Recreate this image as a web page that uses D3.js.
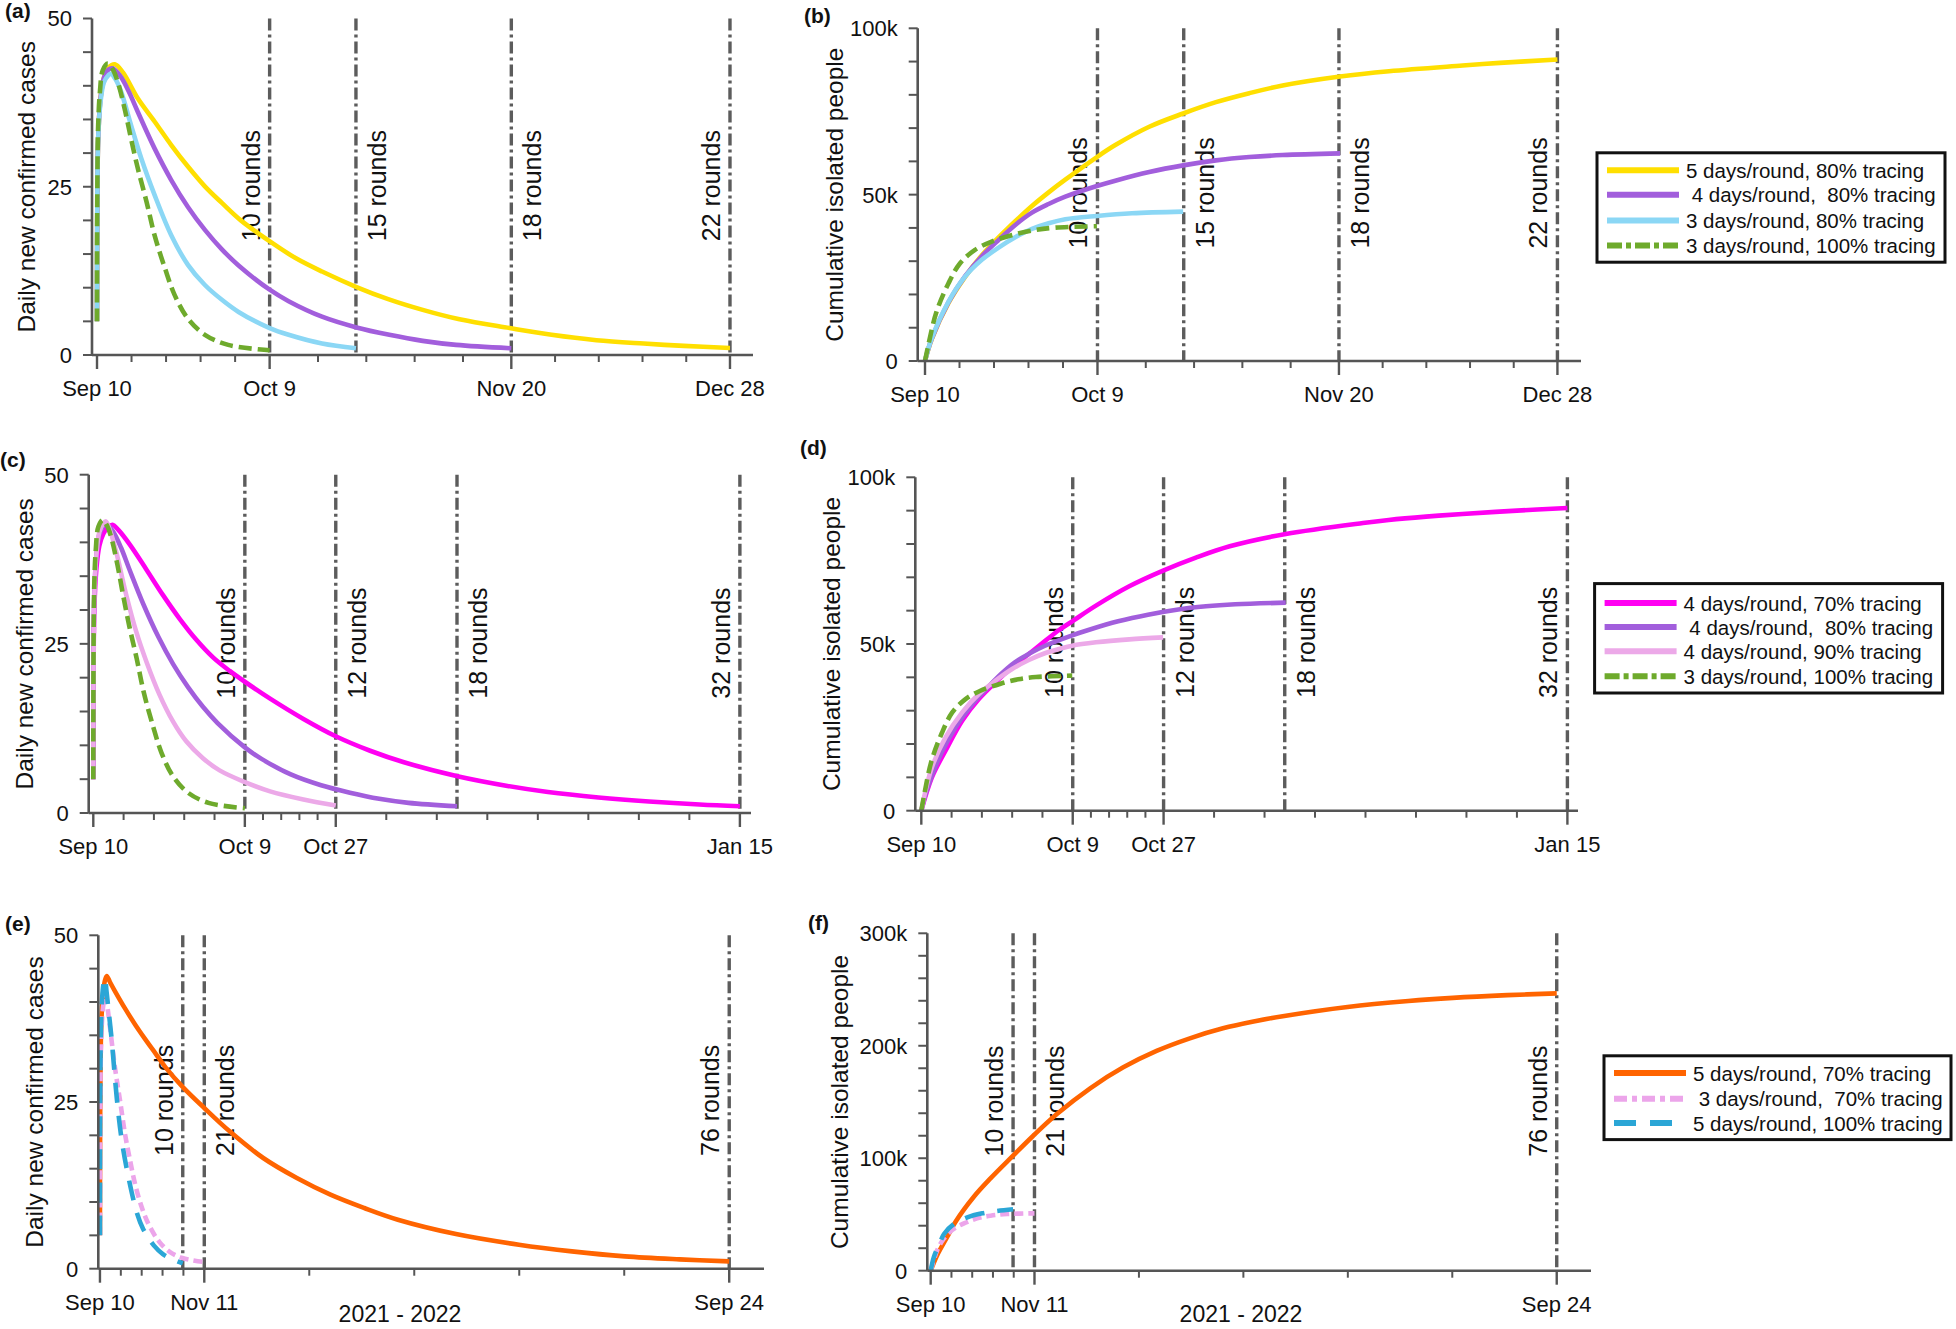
<!DOCTYPE html>
<html><head><meta charset="utf-8">
<script src="https://cdn.jsdelivr.net/npm/d3@7/dist/d3.min.js"></script>
<style>
body{margin:0;background:#fff;}
svg{display:block;font-family:"Liberation Sans",Arial,Helvetica,sans-serif;}
</style></head><body>
<svg id="chart" width="1956" height="1329"></svg>
<script>
// ---------- x-axis (day index from Sep 10) ----------
const ticksAB = [0, 30, 72, 110];
const tickLabelsAB = ["Sep 10", "Oct 9", "Nov 20", "Dec 28"];
const minorAB = [6, 12, 18, 24, 38.4, 46.8, 55.2, 63.6, 79.6, 87.2, 94.8, 102.4];
const roundsAB = [30, 45, 72, 110];
const roundLabelsAB = ["10 rounds", "15 rounds", "18 rounds", "22 rounds"];

const ticksCD = [0, 30, 48, 128];
const tickLabelsCD = ["Sep 10", "Oct 9", "Oct 27", "Jan 15"];
const minorCD = [6, 12, 18, 24, 33.6, 37.2, 40.8, 44.4, 58, 68, 78, 88, 98, 108, 118];
const roundsCD = [30, 48, 72, 128];
const roundLabelsCD = ["10 rounds", "12 rounds", "18 rounds", "32 rounds"];

const ticksEF = [0, 63, 380];
const tickLabelsEF = ["Sep 10", "Nov 11", "Sep 24"];
const minorEF = [12.6, 25.2, 37.8, 50.4, 126.4, 189.8, 253.2, 316.6];
const roundsEF = [50, 63, 380];
const roundLabelsEF = ["10 rounds", "21 rounds", "76 rounds"];

// ---------- daily new confirmed cases [day, cases] ----------
const daily5d80 = [[0,5],[0.05,22],[0.2,32],[0.6,38],[1.2,41.2],[2,42.7],[3.1,43.2],[4.5,42],[7.1,38.1],[10,34.7],[12.9,31.2],[15.8,28.0],[18.7,25.1],[21.7,22.6],[25,20.0],[30,16.9],[34.5,14.4],[39.1,12.4],[45.1,10.1],[50.6,8.3],[56.6,6.7],[63,5.3],[71.7,4.0],[79,3.0],[86.8,2.2],[95,1.7],[102,1.35],[110,1.05]];
const daily4d80 = [[0,5],[0.05,22],[0.2,32],[0.6,38],[1.2,41.2],[2,42.4],[2.7,42.6],[4,41.5],[5.5,39.2],[7.1,36.1],[10,30.7],[12.9,26.0],[15.8,22.0],[18.75,18.6],[21.7,15.7],[24.6,13.3],[30,9.7],[33.3,8.0],[39.1,5.7],[45.1,4.1],[50.8,3.0],[56.6,2.1],[62.4,1.5],[72,1.0]];
const daily3d80 = [[0,5],[0.05,22],[0.2,32],[0.6,37.5],[1.2,40.5],[2,41.6],[2.4,41.8],[3.2,41],[4.2,39.1],[5.9,34.2],[7.7,29.2],[10,23.8],[12.9,17.8],[15.8,13.4],[18.75,10.4],[21.7,8.2],[24.6,6.4],[30,4.0],[33.3,3.0],[39.1,1.7],[45,1.0]];
const daily3d100 = [[0,5],[0.05,24],[0.2,34],[0.5,39],[1,42.3],[1.86,43.3],[2.7,42.5],[3.6,40.6],[4.8,36.6],[5.9,32.2],[7.1,27.7],[8.6,22.8],[10,17.8],[11.8,12.9],[13.5,8.9],[15.8,5.4],[18.75,3.0],[22.8,1.5],[30,0.7]];
const daily4d70 = [[0,5],[0.05,20],[0.2,30],[0.6,36],[1.2,39.5],[2,41.3],[3,42.3],[3.8,42.6],[5,41.8],[7.2,39.7],[10.5,36.0],[13.8,32.2],[17.1,28.7],[20.4,25.6],[23.7,23.0],[27,21.0],[30,19.4],[35,16.9],[41.6,13.9],[48.1,11.3],[54.8,9.2],[61.5,7.5],[72.3,5.4],[82,4.0],[90,3.1],[100,2.3],[110,1.7],[120,1.25],[128,1.0]];
const daily4d90 = [[0,5],[0.05,22],[0.2,32],[0.6,38],[1.2,41.5],[2,42.8],[2.5,43.1],[3.3,41.8],[4.5,38.7],[6.5,32.3],[8.5,26.8],[10.5,22.4],[13.1,17.5],[15.8,13.5],[18.4,10.6],[21.7,8.1],[25,6.3],[29.9,4.6],[35,3.2],[41.6,2.0],[48,1.1]];
const daily5d70 = [[0,5],[0.1,20],[0.4,32],[1,38],[2,41.5],[3,43.2],[4.1,43.9],[6,43],[9.1,41.6],[15.2,39],[21.3,36.6],[27.4,34.4],[33.5,32.3],[39.6,30.2],[50.2,27.2],[63,24.1],[78.3,20.6],[98.6,16.6],[118.9,13.6],[139.2,11.1],[159.6,9.1],[179.9,7.35],[215,5.2],[253,3.6],[285,2.6],[317,1.85],[350,1.4],[380,1.1]];
const daily3d70 = [[0,5],[0.1,20],[0.4,30],[1,36],[2,39.5],[3,40.8],[4,40],[6.1,36.1],[9.1,30.1],[12.2,25.1],[15.2,20.1],[18.3,16.1],[21.3,12.6],[25.4,9.1],[29.5,6.6],[35.6,4.1],[41.7,2.6],[49.8,1.6],[63,1.0]];
const daily5d100 = [[0,5],[0.1,22],[0.4,33],[1,39],[2,42.5],[3,43.6],[4,41.5],[5.1,39],[7.1,34.3],[10.2,25.5],[13.2,19.2],[17.3,13.6],[22.4,8.3],[26,6],[32.5,3.5],[38,2.2],[44,1.4],[50,0.8]];

// ---------- cumulative isolated people [day, thousands] ----------
const cum5d80 = [[0,0],[1.16,6.5],[4.07,17.4],[6.98,25.3],[9.88,31.8],[12.5,36.6],[15.7,42.0],[18.6,46.6],[21.5,50.7],[24.4,54.5],[29.9,61.3],[33.1,64.9],[39,70.4],[44.9,74.4],[50.6,77.8],[56.4,80.5],[62.2,82.8],[72.2,85.5],[80.7,87.1],[93.5,88.8],[100,89.6],[110,90.6]];
const cum4d80 = [[0,0],[1.16,6.6],[4.07,17.6],[6.98,25.5],[9.88,31.5],[12.5,35.9],[15.7,40.9],[18.6,44.6],[21.5,47.2],[24.4,49.4],[29.9,52.6],[33.1,54.2],[39,56.8],[44.9,58.8],[50.6,60.3],[56.4,61.3],[62.2,61.9],[72.2,62.4]];
const cum3d80 = [[0,0],[1.16,6.8],[4.07,17.8],[6.98,25.4],[9.88,30.4],[12.8,34.1],[15.7,37.2],[18.6,39.7],[21.5,41.4],[24.4,42.6],[29.9,43.6],[36,44.4],[44.9,44.9]];
const cum3d100 = [[0,0],[0.58,4.8],[2,14.8],[4.07,23.3],[6.1,29.4],[8.7,33.4],[11.6,35.9],[15.7,38.1],[19.2,39.4],[22.7,40.1],[29.9,40.5]];
const cum4d70 = [[0,0],[2.1,10],[4.8,18],[8.1,27],[11.4,33.5],[14.7,38.5],[18,43],[21.3,47],[24.6,51],[27.3,54.2],[29.9,56.8],[34.6,61.5],[41.2,67.3],[47.9,72],[54.4,75.9],[61.1,79.3],[72.2,83],[87.5,86.3],[92.6,87.2],[100,88.2],[107.2,89.0],[118,90.0],[128,90.8]];
const cum4d90 = [[0,0],[2.1,13],[4.8,22],[8.1,29.5],[11.4,35],[14.7,39],[18,42.5],[21.3,45.2],[24.6,47.3],[27.3,48.5],[29.9,49.5],[34.6,50.5],[41.2,51.4],[47.9,52]];
const cum5d70 = [[0,0],[4,13.9],[10.1,30.2],[15.1,43.6],[26.2,65.8],[36.3,82.1],[49.4,101.4],[62.1,119.8],[76.6,139.3],[96.8,162.2],[116.9,180.8],[137.1,195.4],[157.3,206.6],[177.4,215.5],[197.6,222.0],[213.7,226.3],[253,234.5],[290,239.8],[317,242.6],[350,245.0],[380,246.6]];
const cum3d70 = [[0,0],[4,18.4],[8.1,28.8],[13.1,36.2],[20.2,42.1],[28.2,46.5],[36.3,48.9],[46.4,50.4],[63,51]];
const cum5d100 = [[0,0],[2,12.5],[5,22.8],[8.1,32.6],[14.1,41.5],[22.2,47.4],[31.3,51],[40.3,53.1],[50,54.6]];

// ---------- series names ----------
const legendB = ["5 days/round, 80% tracing", " 4 days/round,  80% tracing", "3 days/round, 80% tracing", "3 days/round, 100% tracing"];
const legendD = ["4 days/round, 70% tracing", " 4 days/round,  80% tracing", "4 days/round, 90% tracing", "3 days/round, 100% tracing"];
const legendF = ["5 days/round, 70% tracing", " 3 days/round,  70% tracing", "5 days/round, 100% tracing"];

// ---------- styles ----------
const ST = {
  yellow: {c:"#FFDF00", dash:null, ldash:null},
  purple: {c:"#A25EDC", dash:null, ldash:null},
  cyan:   {c:"#8BD7F5", dash:null, ldash:null},
  green:  {c:"#6EAA2C", dash:"13,6", ldash:"15,4,5,4"},
  magenta:{c:"#FF00F2", dash:null, ldash:null},
  lpink:  {c:"#ECA9E8", dash:null, ldash:null},
  orange: {c:"#FF6400", dash:null, ldash:null},
  pinkd:  {c:"#ECA5EA", dash:"9,5", ldash:"13,5,5,5"},
  blue:   {c:"#2BA6D6", dash:"20,13", ldash:"22,14"}
};
const AX = "#555";
const svg = d3.select("#chart");

const panels = [
 {tag:"(a)", tagX:5, tagY:17.5, xr:[92,753], xd:[-0.87,114], yr:[355,18.5], yMax:50, yStep:5, yMajor:[0,25,50], k:false,
  title:"Daily new confirmed cases", titleX:35,
  ticks:ticksAB, tl:tickLabelsAB, minor:minorAB, rounds:roundsAB, rl:roundLabelsAB, sides:["L","R","R","L"],
  series:[[daily5d80,"yellow"],[daily4d80,"purple"],[daily3d80,"cyan"],[daily3d100,"green"]]},
 {tag:"(b)", tagX:804, tagY:23, xr:[917.7,1581], xd:[-1.27,114.1], yr:[361,28.3], yMax:100, yStep:10, yMajor:[0,50,100], k:true,
  title:"Cumulative isolated people", titleX:843,
  ticks:ticksAB, tl:tickLabelsAB, minor:minorAB, rounds:roundsAB, rl:roundLabelsAB, sides:["L","R","R","L"],
  series:[[cum5d80,"yellow"],[cum4d80,"purple"],[cum3d80,"cyan"],[cum3d100,"green"]],
  legend:{x:1597, y:152.8, w:348, h:109.4, rows:[170.2,194.7,220.4,245.5], names:legendB, keys:["yellow","purple","cyan","green"]}},
 {tag:"(c)", tagX:0, tagY:467, xr:[88.7,751], xd:[-0.91,130.2], yr:[813,474.7], yMax:50, yStep:5, yMajor:[0,25,50], k:false,
  title:"Daily new confirmed cases", titleX:32.5,
  ticks:ticksCD, tl:tickLabelsCD, minor:minorCD, rounds:roundsCD, rl:roundLabelsCD, sides:["L","R","R","L"],
  series:[[daily4d70,"magenta"],[daily4d80,"purple"],[daily4d90,"lpink"],[daily3d100,"green"]]},
 {tag:"(d)", tagX:800, tagY:455, xr:[915.3,1578], xd:[-1.19,130.1], yr:[810.7,477.3], yMax:100, yStep:10, yMajor:[0,50,100], k:true,
  title:"Cumulative isolated people", titleX:840,
  ticks:ticksCD, tl:tickLabelsCD, minor:minorCD, rounds:roundsCD, rl:roundLabelsCD, sides:["L","R","R","L"],
  series:[[cum4d70,"magenta"],[cum4d80,"purple"],[cum4d90,"lpink"],[cum3d100,"green"]],
  legend:{x:1594.6, y:583.6, w:348, h:109.4, rows:[603,627,651.3,676.3], names:legendD, keys:["magenta","purple","lpink","green"]}},
 {tag:"(e)", tagX:5, tagY:930.5, xr:[98.3,764], xd:[-1,401], yr:[1268.7,935.3], yMax:50, yStep:5, yMajor:[0,25,50], k:false,
  title:"Daily new confirmed cases", titleX:42.5,
  ticks:ticksEF, tl:tickLabelsEF, minor:minorEF, rounds:roundsEF, rl:roundLabelsEF, sides:["L","R","L"],
  series:[[daily5d70,"orange"],[daily3d70,"pinkd"],[daily5d100,"blue"]], year:{x:400}},
 {tag:"(f)", tagX:808, tagY:929.5, xr:[927.3,1591], xd:[-2.06,400.8], yr:[1270.7,933.3], yMax:300, yStep:20, yMajor:[0,100,200,300], k:true,
  title:"Cumulative isolated people", titleX:848,
  ticks:ticksEF, tl:tickLabelsEF, minor:minorEF, rounds:roundsEF, rl:roundLabelsEF, sides:["L","R","L"],
  series:[[cum5d70,"orange"],[cum3d70,"pinkd"],[cum5d100,"blue"]], year:{x:1241},
  legend:{x:1604, y:1055.8, w:347, h:83.8, rows:[1073,1098.7,1123], names:legendF, keys:["orange","pinkd","blue"]}}
];

panels.forEach(p => {
  const g = svg.append("g");
  const x = d3.scaleLinear().domain(p.xd).range(p.xr);
  const y = d3.scaleLinear().domain([0, p.yMax]).range(p.yr);
  const yBot = p.yr[0], yTop = p.yr[1];

  // vertical round lines
  p.rounds.forEach((r, i) => {
    g.append("line").attr("x1", x(r)).attr("x2", x(r)).attr("y1", yTop).attr("y2", yBot)
      .attr("stroke", "#5c5c5c").attr("stroke-width", 3.4).attr("stroke-dasharray", "12,4,3,4");
    const ly = yBot - 0.338 * (yBot - yTop);
    const lx = p.sides[i] === "L" ? x(r) - 10 : x(r) + 30;
    g.append("text").attr("transform", `translate(${lx},${ly}) rotate(-90)`)
      .attr("font-size", 25).attr("fill", "#111").text(p.rl[i]);
  });

  // series
  const line = d3.line().x(d => x(d[0])).y(d => y(d[1])).curve(d3.curveCatmullRom.alpha(0.5));
  p.series.forEach(([data, key]) => {
    const s = ST[key];
    g.append("path").datum(data).attr("d", line).attr("fill", "none")
      .attr("stroke", s.c).attr("stroke-width", 4.6).attr("stroke-linejoin", "round")
      .attr("stroke-dasharray", s.dash);
  });

  // axes
  g.append("line").attr("x1", p.xr[0]).attr("x2", p.xr[1]).attr("y1", yBot).attr("y2", yBot)
    .attr("stroke", AX).attr("stroke-width", 2.6);
  g.append("line").attr("x1", p.xr[0]).attr("x2", p.xr[0]).attr("y1", yTop).attr("y2", yBot)
    .attr("stroke", AX).attr("stroke-width", 2.6);

  // x ticks
  p.minor.forEach(t => g.append("line").attr("x1", x(t)).attr("x2", x(t)).attr("y1", yBot).attr("y2", yBot + 7)
    .attr("stroke", AX).attr("stroke-width", 2));
  p.ticks.forEach((t, i) => {
    g.append("line").attr("x1", x(t)).attr("x2", x(t)).attr("y1", yBot).attr("y2", yBot + 14)
      .attr("stroke", AX).attr("stroke-width", 2.4);
    g.append("text").attr("x", x(t)).attr("y", yBot + 41).attr("text-anchor", "middle")
      .attr("font-size", 22).attr("fill", "#111").text(p.tl[i]);
  });

  // y ticks
  d3.range(0, p.yMax + 0.001, p.yStep).forEach(v => g.append("line")
    .attr("x1", p.xr[0] - 9).attr("x2", p.xr[0]).attr("y1", y(v)).attr("y2", y(v))
    .attr("stroke", AX).attr("stroke-width", 2));
  p.yMajor.forEach(v => g.append("text").attr("x", p.xr[0] - 20).attr("y", y(v)).attr("dy", "0.36em")
    .attr("text-anchor", "end").attr("font-size", 22).attr("fill", "#111")
    .text(v === 0 ? "0" : (p.k ? v + "k" : v)));

  // titles
  g.append("text").attr("transform", `translate(${p.titleX},${(yTop + yBot) / 2}) rotate(-90)`)
    .attr("text-anchor", "middle").attr("font-size", 24.5).attr("fill", "#111").text(p.title);
  g.append("text").attr("x", p.tagX).attr("y", p.tagY).attr("font-size", 21).attr("font-weight", "bold")
    .attr("fill", "#111").text(p.tag);
  if (p.year) g.append("text").attr("x", p.year.x).attr("y", 1322).attr("text-anchor", "middle")
    .attr("font-size", 23).attr("fill", "#111").text("2021 - 2022");

  // legend
  if (p.legend) {
    const L = p.legend;
    g.append("rect").attr("x", L.x).attr("y", L.y).attr("width", L.w).attr("height", L.h)
      .attr("fill", "#fff").attr("stroke", "#111").attr("stroke-width", 3);
    L.rows.forEach((ry, i) => {
      const s = ST[L.keys[i]];
      g.append("line").attr("x1", L.x + 10).attr("x2", L.x + 82).attr("y1", ry).attr("y2", ry)
        .attr("stroke", s.c).attr("stroke-width", 6).attr("stroke-dasharray", s.ldash);
      g.append("text").attr("x", L.x + 89).attr("y", ry + 7.5).attr("font-size", 20.5)
        .attr("fill", "#111").style("white-space", "pre").text(L.names[i]);
    });
  }
});
</script>
</body></html>
